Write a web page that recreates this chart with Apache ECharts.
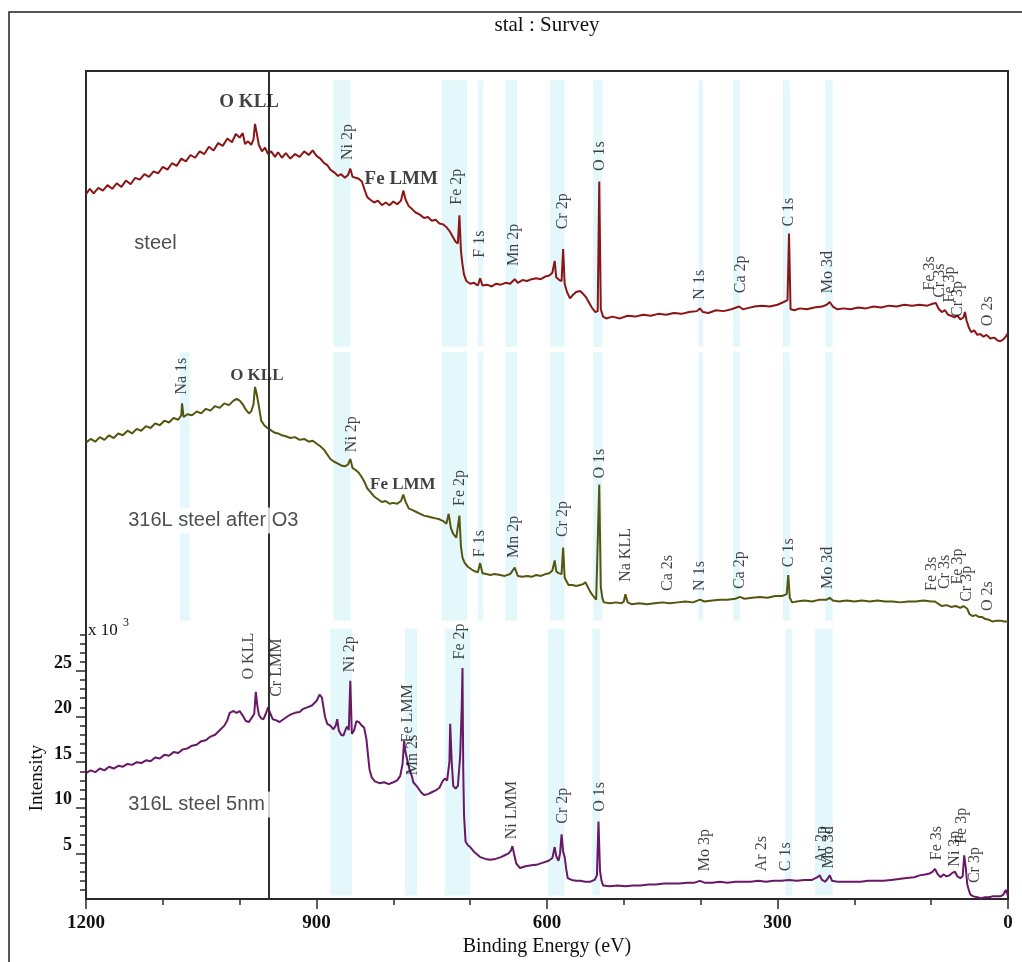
<!DOCTYPE html>
<html><head><meta charset="utf-8">
<script src="https://cdn.jsdelivr.net/npm/echarts@6/dist/echarts.min.js"></script>
<style>html,body{margin:0;padding:0;background:#fff}#c{width:1022px;height:962px}</style>
</head><body><div id="c"></div>
<script>
// Binding energy (eV) vs intensity (x10^3 counts); upper spectra are vertically offset
const steelData = [[1200,77.2],[1195,77.8],[1190,77.3],[1184,77.9],[1178,77.6],[1172,78.2],[1166,77.8],[1160,78.4],[1154,78.0],[1148,78.7],[1142,78.3],[1136,79.0],[1130,78.8],[1124,79.4],[1118,79.1],[1112,79.7],[1106,79.5],[1100,80.2],[1094,79.9],[1088,80.6],[1082,80.3],[1076,81.1],[1070,80.8],[1064,81.5],[1058,81.2],[1052,81.9],[1046,81.6],[1040,82.4],[1034,82.0],[1028,82.8],[1022,82.5],[1016,83.3],[1010,82.9],[1005,83.8],[1000,83.4],[996,83.9],[993,82.7],[989,83.0],[985,82.6],[982,83.2],[980,84.9],[978,84.0],[975,82.6],[971,81.9],[967,82.3],[963,81.6],[959,81.9],[954,81.3],[950,81.8],[945,81.2],[940,81.7],[934,81.1],[928,81.6],[922,81.3],[916,81.9],[910,81.5],[905,82.0],[900,81.4],[895,81.1],[890,80.6],[886,80.4],[882,79.9],[877,79.6],[872,79.2],[868,79.4],[863,79.0],[859,79.3],[856,80.0],[853,79.1],[849,79.0],[845,78.9],[841,78.6],[837,77.6],[834,76.9],[830,76.6],[825,76.3],[820,76.5],[815,76.0],[810,76.3],[805,76.0],[800,76.4],[795,76.1],[790,76.5],[787,77.6],[784,76.6],[780,75.9],[776,75.6],[771,75.2],[766,75.0],[760,74.6],[755,74.7],[750,74.3],[745,74.4],[740,74.0],[735,73.9],[731,73.6],[727,73.2],[723,72.6],[719,72.0],[716,71.8],[714,74.9],[712,71.0],[710,69.5],[708,68.4],[705,67.7],[700,67.4],[695,67.5],[690,67.2],[687,68.0],[684,67.2],[678,67.3],[672,67.1],[666,67.4],[660,67.3],[654,67.5],[648,67.4],[642,67.9],[638,67.5],[632,67.8],[626,67.7],[620,67.9],[614,68.0],[608,67.9],[602,68.2],[597,68.3],[593,68.6],[590,69.9],[588,68.1],[584,67.8],[581,67.7],[579,71.2],[577,67.4],[574,66.5],[570,65.8],[566,66.2],[562,66.5],[557,66.6],[553,66.3],[549,65.9],[545,65.3],[541,64.7],[537,64.3],[534,64.4],[532,78.6],[530,64.6],[527,63.8],[523,63.6],[515,63.8],[505,63.6],[495,63.9],[485,63.8],[475,64.0],[465,63.9],[455,64.1],[445,64.0],[435,64.2],[425,64.1],[415,64.3],[405,64.4],[401,64.7],[397,64.3],[390,64.2],[380,64.5],[370,64.4],[360,64.6],[350,64.9],[345,64.6],[340,64.7],[330,64.9],[320,65.0],[310,64.9],[300,65.1],[292,65.4],[287,65.6],[285,72.9],[283,64.6],[278,64.5],[271,64.7],[262,64.6],[252,64.8],[242,64.9],[236,65.1],[232,65.4],[228,64.9],[222,64.6],[214,64.7],[205,64.6],[195,64.8],[185,64.7],[175,64.9],[165,64.8],[155,65.0],[145,64.9],[135,65.1],[125,65.0],[115,65.1],[105,65.0],[98,65.2],[94,65.3],[90,64.6],[86,64.3],[82,64.5],[78,64.0],[74,63.9],[70,63.7],[66,63.9],[62,63.5],[58,63.7],[56,64.3],[54,63.4],[51,62.6],[48,62.1],[44,62.3],[40,61.8],[36,61.9],[32,61.6],[28,61.8],[23,61.4],[18,61.5],[14,61.2],[10,61.1],[6,61.3],[3,61.6],[0,62.0]];

const afterO3Data = [[1200,50.0],[1194,50.4],[1188,50.1],[1182,50.6],[1176,50.3],[1170,50.8],[1164,50.5],[1158,51.0],[1152,50.8],[1146,51.3],[1140,51.0],[1134,51.5],[1128,51.3],[1122,51.8],[1116,51.6],[1110,52.1],[1104,51.9],[1098,52.4],[1092,52.2],[1086,52.7],[1080,52.5],[1076,53.0],[1075,54.3],[1073,52.8],[1068,53.1],[1062,53.0],[1056,53.4],[1050,53.2],[1044,53.7],[1038,53.5],[1032,54.0],[1026,53.8],[1020,54.3],[1014,54.1],[1008,54.6],[1004,54.8],[1000,54.6],[996,54.2],[992,53.6],[988,53.2],[985,53.4],[982,54.2],[980,56.1],[978,55.4],[975,54.0],[972,52.4],[968,51.9],[964,51.6],[960,51.4],[955,51.1],[950,51.0],[945,50.8],[940,50.7],[934,50.5],[928,50.6],[922,50.3],[916,50.4],[910,50.1],[905,50.2],[900,49.9],[895,49.6],[890,49.2],[886,48.7],[882,48.2],[877,47.9],[872,47.7],[868,47.5],[863,47.4],[859,47.6],[856,48.2],[853,47.2],[849,47.0],[845,46.7],[841,46.2],[837,45.6],[834,45.0],[830,44.6],[825,44.1],[820,43.8],[815,43.5],[810,43.6],[805,43.3],[800,43.4],[795,43.3],[790,43.6],[787,44.3],[784,43.5],[780,42.8],[775,42.6],[770,42.4],[765,42.2],[760,42.0],[755,41.9],[750,41.8],[745,41.7],[740,41.6],[735,41.4],[731,41.1],[728,42.2],[725,40.6],[722,40.0],[718,39.6],[716,39.5],[714,42.0],[712,38.6],[710,37.4],[707,36.8],[703,36.4],[698,36.1],[694,35.9],[690,35.8],[687,36.8],[684,35.7],[679,35.6],[674,35.5],[668,35.6],[661,35.5],[655,35.4],[648,35.6],[642,36.3],[638,35.4],[632,35.3],[626,35.4],[620,35.3],[614,35.5],[608,35.4],[602,35.6],[597,35.7],[593,36.0],[590,37.1],[588,35.9],[585,35.7],[581,35.6],[579,38.5],[577,35.2],[575,35.0],[572,34.4],[567,34.4],[562,34.3],[557,34.4],[553,34.5],[550,34.7],[547,34.2],[544,33.7],[540,33.2],[536,32.8],[534,33.0],[532,45.4],[530,34.2],[528,33.0],[526,32.5],[518,32.4],[510,32.5],[503,32.4],[500,32.6],[498,33.4],[495,32.5],[490,32.3],[480,32.4],[470,32.3],[460,32.4],[450,32.5],[440,32.4],[430,32.5],[420,32.6],[410,32.5],[401,32.8],[395,32.6],[385,32.7],[375,32.8],[365,32.8],[355,32.9],[349,33.1],[343,32.9],[333,33.0],[323,33.1],[313,33.0],[303,33.2],[294,33.2],[288,33.4],[286,35.5],[284,33.0],[281,32.5],[275,32.6],[265,32.7],[255,32.6],[245,32.8],[236,32.8],[232,33.0],[228,32.7],[220,32.6],[210,32.7],[200,32.6],[190,32.7],[180,32.6],[170,32.7],[160,32.6],[150,32.6],[140,32.5],[130,32.6],[120,32.6],[110,32.7],[100,32.6],[95,32.6],[90,32.3],[86,32.1],[80,32.2],[74,32.0],[68,32.1],[62,31.9],[58,32.1],[56,32.3],[53,31.8],[50,31.2],[46,31.0],[42,31.1],[38,30.9],[34,30.9],[30,30.7],[25,30.6],[20,30.4],[15,30.5],[10,30.5],[5,30.4],[0,30.4]];

const nm5Data = [[1200,13.8],[1194,14.1],[1188,13.9],[1182,14.3],[1176,14.1],[1170,14.5],[1164,14.3],[1158,14.6],[1152,14.5],[1146,14.8],[1140,14.7],[1134,15.0],[1128,14.9],[1122,15.2],[1116,15.1],[1110,15.5],[1104,15.4],[1098,15.8],[1092,15.7],[1086,16.1],[1080,16.0],[1074,16.4],[1068,16.5],[1062,16.8],[1056,16.9],[1050,17.3],[1044,17.4],[1038,17.8],[1032,18.0],[1026,18.5],[1020,19.0],[1016,19.6],[1013,20.4],[1008,20.6],[1004,20.4],[1000,20.6],[996,20.1],[992,19.5],[988,19.4],[984,19.9],[981,20.3],[979,22.7],[977,21.2],[975,20.2],[972,19.8],[969,19.7],[966,20.3],[963,21.0],[960,20.3],[957,19.7],[953,19.6],[948,19.4],[943,19.7],[938,20.0],[934,20.2],[928,20.4],[922,20.5],[918,20.8],[912,21.0],[906,21.2],[900,21.7],[896,22.4],[893,22.1],[891,21.9],[889,20.0],[886,19.2],[882,19.0],[878,18.6],[875,19.0],[873,19.7],[871,18.5],[868,18.0],[865,17.9],[862,18.6],[860,18.9],[858,18.5],[856,23.9],[854,18.1],[851,18.5],[848,19.5],[845,19.4],[841,19.0],[838,18.8],[835,17.5],[833,15.8],[831,14.2],[828,13.3],[824,12.9],[818,12.7],[812,12.8],[806,12.6],[800,12.8],[795,13.0],[791,13.5],[788,14.8],[786,17.3],[784,16.0],[782,15.3],[779,14.2],[776,13.5],[774,12.8],[771,12.5],[768,12.2],[764,11.7],[760,11.4],[755,11.5],[750,11.7],[745,11.9],[740,12.2],[736,12.9],[733,13.2],[730,13.0],[727,15.0],[726,19.2],[724,15.0],[722,12.4],[719,12.1],[716,12.4],[713,15.7],[711,21.0],[710,25.3],[709,14.0],[708,9.2],[706,6.3],[703,5.9],[700,5.7],[694,5.1],[687,4.6],[680,4.4],[674,4.3],[667,4.4],[660,4.6],[655,4.8],[650,5.0],[647,5.3],[645,5.8],[643,5.0],[640,3.9],[635,3.4],[628,3.6],[620,3.7],[612,3.8],[605,4.0],[598,4.2],[593,4.5],[590,5.7],[588,4.7],[585,4.2],[583,5.0],[581,7.1],[579,5.2],[577,4.6],[575,3.3],[573,2.3],[568,2.1],[562,2.0],[557,2.0],[550,1.9],[544,1.9],[538,2.1],[535,2.6],[533,8.5],[531,3.1],[529,2.0],[527,1.5],[518,1.4],[508,1.5],[498,1.4],[488,1.5],[478,1.5],[468,1.6],[458,1.6],[448,1.7],[438,1.7],[428,1.7],[418,1.8],[408,1.8],[401,2.0],[395,1.8],[385,1.8],[375,1.9],[365,1.8],[355,1.9],[345,1.9],[335,1.9],[325,2.0],[315,1.9],[305,2.0],[295,2.0],[285,2.1],[275,2.0],[265,2.1],[255,2.1],[248,2.4],[245,2.6],[242,2.1],[238,1.9],[235,2.2],[232,2.6],[229,2.0],[222,1.9],[212,1.9],[202,1.9],[192,1.9],[182,2.0],[172,2.0],[162,2.0],[152,2.1],[142,2.2],[132,2.3],[122,2.4],[115,2.6],[108,2.7],[102,2.8],[98,3.0],[95,3.3],[92,2.8],[88,2.4],[84,2.7],[80,2.5],[76,2.6],[72,2.9],[69,3.0],[66,2.5],[62,2.3],[59,2.5],[57,4.8],[55,3.5],[53,1.6],[51,1.0],[49,0.5],[45,0.3],[40,0.2],[35,0.1],[30,0.2],[25,0.2],[20,0.3],[15,0.3],[10,0.3],[6,0.5],[3,1.0],[1,0.6],[0,0.3]];

// peak annotations: [binding energy, intensity at label start, text]
const steelPeaks = [[859,80.9,'Ni 2p'],[717,76.0,'Fe 2p'],[687,70.2,'F 1s'],[642,69.3,'Mn 2p'],[579,73.3,'Cr 2p'],[531,79.7,'O 1s'],[401,65.6,'N 1s'],[347,66.3,'Ca 2p'],[285,73.6,'C 1s'],[234,66.3,'Mo 3d'],[101,66.6,'Fe 3s'],[88,65.8,'Cr 3s'],[75,65.3,'Fe 3p'],[65,63.7,'Cr 3p'],[26,62.7,'O 2s']];
const steelAuger = [[987,87.2,'O KLL'],[789,78.8,'Fe LMM']];
const afterO3Peaks = [[1075,55.2,'Na 1s'],[854,48.9,'Ni 2p'],[713,43.0,'Fe 2p'],[687,37.4,'F 1s'],[642,37.3,'Mn 2p'],[579,39.6,'Cr 2p'],[531,46.0,'O 1s'],[497,34.7,'Na KLL'],[442,33.7,'Ca 2s'],[401,33.7,'N 1s'],[349,33.9,'Ca 2p'],[285,36.3,'C 1s'],[234,33.9,'Mo 3d'],[98,33.7,'Fe 3s'],[82,33.9,'Cr 3s'],[65,34.4,'Fe 3p'],[53,32.5,'Cr 3p'],[26,31.5,'O 2s']];
const afterO3Auger = [[977,57.3,'O KLL'],[787,45.3,'Fe LMM']];
const nm5Peaks = [[987,24.0,'O KLL'],[951,22.1,'Cr LMM'],[856,24.8,'Ni 2p'],[780,17.1,'Fe LMM'],[774,13.5,'Mn 2s'],[713,26.2,'Fe 2p'],[645,6.5,'Ni LMM'],[579,8.2,'Cr 2p'],[531,9.5,'O 1s'],[394,3.0,'Mo 3p'],[320,3.0,'Ar 2s'],[288,3.0,'C 1s'],[242,3.9,'Ar 2p'],[232,3.3,'Mo 3d'],[92,4.2,'Fe 3s'],[69,3.5,'Ni 3p'],[60,6.0,'Fe 3p'],[43,1.7,'Cr 3p']];
const sampleNames = [[1139,71.8,'steel'],[1147,41.4,'316L steel after O3'],[1147,10.3,'316L steel 5nm']];

// highlighted peak windows [from eV, to eV] and the intensity span of each panel
const bandsTop = [[878,856],[737,704],[690,683],[654,639],[596,577],[540,528],[403,397],[358,349],[293,284],[238,228]];
const bandsMid = [[1078,1065],[878,856],[737,704],[690,683],[654,639],[596,577],[540,528],[403,397],[358,349],[293,284],[238,228]];
const bandsBot = [[882,854],[785,769],[733,700],[599,577],[541,531],[290,281],[251,228]];
const panelSpans = [[60.5,89.7],[30.5,59.9],[0.4,29.6]];
const refLineEnergy = 962;

const majorTicks = [5,10,15,20,25];
const minorTicks = [1,2,3,4,6,7,8,9,11,12,13,14,16,17,18,19,21,22,23,24,26,27,28,29];

const SERIF = '"Liberation Serif","Times New Roman",serif';
const SANS = '"Liberation Sans",Arial,sans-serif';
const INK = '#111';

function bandAreas(list, span) {
  return list.map(b => [{xAxis: b[0], yAxis: span[0]}, {xAxis: b[1], yAxis: span[1]}]);
}
function peakLabels(name, data) {
  return {
    name, type: 'scatter', data, symbolSize: 1, z: 10, silent: true,
    itemStyle: {color: 'transparent'},
    label: {show: true, position: [0, 0], rotate: 90, align: 'left', verticalAlign: 'middle',
      formatter: p => p.value[2], fontFamily: SERIF, fontSize: 16, color: INK}
  };
}
function flatLabels(name, data, size) {
  return {
    name, type: 'scatter', data, symbolSize: 1, z: 10, silent: true,
    itemStyle: {color: 'transparent'},
    label: {show: true, position: [0, 0], align: 'center', verticalAlign: 'middle',
      formatter: p => p.value[2], fontFamily: SERIF, fontWeight: 'bold', fontSize: size, color: INK}
  };
}

const chart = echarts.init(document.getElementById('c'), null, {renderer: 'canvas'});
chart.setOption({
  animation: false,
  backgroundColor: '#fff',
  grid: {left: 86, right: 14, top: 71, bottom: 46, show: true, borderColor: '#2a2a2a', borderWidth: 2, backgroundColor: 'transparent'},
  xAxis: {
    type: 'value', min: 0, max: 1200, interval: 300, inverse: true,
    name: 'Binding Energy (eV)', nameLocation: 'middle', nameGap: 33,
    nameTextStyle: {fontFamily: SERIF, fontSize: 20, color: INK},
    axisLine: {show: true, onZero: false, lineStyle: {color: '#2a2a2a', width: 2}},
    axisTick: {show: true, length: 10, lineStyle: {color: '#2a2a2a', width: 1.5}},
    minorTick: {show: true, splitNumber: 3, length: 6, lineStyle: {color: '#2a2a2a', width: 1.5}},
    axisLabel: {margin: 14, formatter: v => String(v), fontFamily: SERIF, fontWeight: 'bold', fontSize: 19, color: INK},
    splitLine: {show: false}
  },
  yAxis: [{
    type: 'value', min: 0, max: 90.7, position: 'left',
    axisLine: {show: false, onZero: false},
    axisTick: {show: true, length: 10, customValues: majorTicks, lineStyle: {color: '#2a2a2a', width: 1.5}},
    axisLabel: {show: true, customValues: majorTicks, margin: 14, verticalAlign: 'bottom', lineHeight: 16,
      fontFamily: SERIF, fontWeight: 'bold', fontSize: 18, color: INK},
    splitLine: {show: false}
  }, {
    type: 'value', min: 0, max: 90.7, position: 'left',
    axisLine: {show: false, onZero: false},
    axisTick: {show: true, length: 6, customValues: minorTicks, lineStyle: {color: '#2a2a2a', width: 1.5}},
    axisLabel: {show: false},
    splitLine: {show: false}
  }],
  graphic: [
    {type: 'rect', silent: true, shape: {x: 9, y: 12, width: 1040, height: 990},
      style: {fill: 'none', stroke: '#222', lineWidth: 1.5}},
    {type: 'text', silent: true, x: 547, y: 25,
      style: {text: 'stal : Survey', textAlign: 'center', textVerticalAlign: 'middle', font: '21px ' + SERIF, fill: INK}},
    {type: 'text', silent: true, x: 37, y: 778, rotation: Math.PI / 2,
      style: {text: 'Intensity', textAlign: 'center', textVerticalAlign: 'middle', font: '19px ' + SERIF, fill: INK}},
    {type: 'text', silent: true, x: 88, y: 631,
      style: {text: 'x 10', textAlign: 'left', textVerticalAlign: 'middle', font: '17px ' + SERIF, fill: INK}},
    {type: 'text', silent: true, x: 123, y: 623,
      style: {text: '3', textAlign: 'left', textVerticalAlign: 'middle', font: '12px ' + SERIF, fill: INK}}
  ],
  series: [
    {
      name: 'bands', type: 'line', data: [], z: 1, silent: true,
      markArea: {silent: true, itemStyle: {color: 'rgba(205,242,249,0.55)'},
        data: bandAreas(bandsTop, panelSpans[0]).concat(bandAreas(bandsMid, panelSpans[1]), bandAreas(bandsBot, panelSpans[2]))},
      markLine: {silent: true, symbol: ['none', 'none'], label: {show: false},
        lineStyle: {color: '#2f2f2f', width: 2, type: 'solid'}, data: [{xAxis: refLineEnergy}]}
    },
    {name: 'steel', type: 'line', data: steelData, showSymbol: false, z: 3,
      lineStyle: {color: '#8b1515', width: 2}},
    {name: '316L steel after O3', type: 'line', data: afterO3Data, showSymbol: false, z: 3,
      lineStyle: {color: '#55550f', width: 2}},
    {name: '316L steel 5nm', type: 'line', data: nm5Data, showSymbol: false, z: 3,
      lineStyle: {color: '#681866', width: 2}},
    peakLabels('steelPeaks', steelPeaks),
    peakLabels('afterO3Peaks', afterO3Peaks),
    peakLabels('nm5Peaks', nm5Peaks),
    flatLabels('steelAuger', steelAuger, 19),
    flatLabels('afterO3Auger', afterO3Auger, 17),
    {
      name: 'samples', type: 'scatter', data: sampleNames, symbolSize: 1, z: 11, silent: true,
      itemStyle: {color: 'transparent'},
      label: {show: true, position: [0, 0], align: 'left', verticalAlign: 'middle',
        formatter: p => p.value[2], fontFamily: SANS, fontSize: 20, color: '#222',
        backgroundColor: '#fff', padding: [3, 8, 3, 2]}
    }
  ]
});
</script></body></html>
